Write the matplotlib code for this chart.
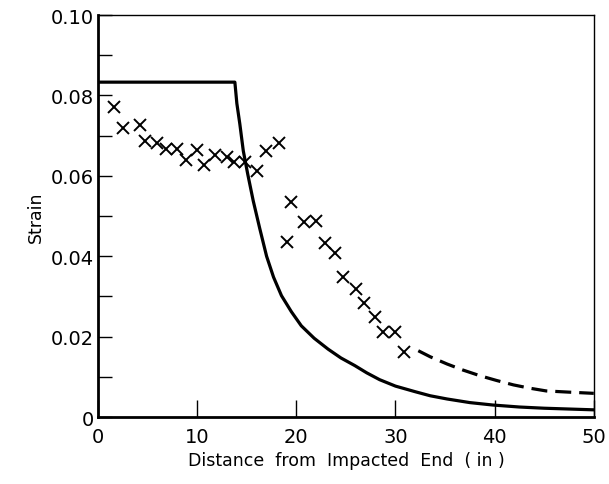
import matplotlib
matplotlib.use("Agg")
import matplotlib.pyplot as plt
from matplotlib.ticker import MultipleLocator

# measured strain (x marks)
meas_x = [1.6, 2.5, 4.2, 4.7, 5.9, 6.9, 8.0, 8.9, 10.0, 10.7, 11.8, 13.0, 13.7,
          14.8, 16.0, 16.9, 18.3, 19.1, 19.5, 20.8, 22.0, 22.9, 23.9, 24.7,
          26.0, 26.8, 27.9, 28.7, 30.0, 30.9]
meas_y = [0.0770, 0.0719, 0.0726, 0.0687, 0.0681, 0.0667, 0.0667, 0.0639, 0.0665,
          0.0627, 0.0652, 0.0646, 0.0635, 0.0634, 0.0613, 0.0661, 0.0681, 0.0435,
          0.0534, 0.0486, 0.0488, 0.0433, 0.0408, 0.0349, 0.0318, 0.0284, 0.0248,
          0.0212, 0.0212, 0.0161]

# predicted curve (solid)
pred_x = [0, 13.8, 14.0, 14.3, 14.65, 15.1, 15.65, 16.3, 17.0, 17.7, 18.5, 19.5,
          20.5, 21.8, 23.2, 24.5, 25.9, 27.1, 28.4, 30.0, 32.0, 33.5, 35.2, 37.5,
          39.8, 42.5, 45.0, 47.5, 50.0]
pred_y = [0.0833, 0.0833, 0.0780, 0.0729, 0.0662, 0.0604, 0.0538, 0.0470, 0.0400,
          0.0348, 0.0302, 0.0262, 0.0227, 0.0196, 0.0169, 0.0147, 0.0128, 0.0110,
          0.0093, 0.0077, 0.0063, 0.0053, 0.0045, 0.0036, 0.0030, 0.0025, 0.0022,
          0.0020, 0.0018]

# extrapolated tail (dashed)
tail_x = [32.3, 33.5, 35.2, 36.8, 38.5, 40.2, 41.9, 43.5, 45.2, 47.5, 50.0]
tail_y = [0.0165, 0.0150, 0.0132, 0.0117, 0.0103, 0.0091, 0.0080, 0.0072, 0.0065,
          0.0062, 0.0059]

fig = plt.figure(figsize=(6.09, 4.85), dpi=100)
ax = fig.add_axes([0.161, 0.138, 0.814, 0.829])

ax.plot(pred_x, pred_y, color='black', lw=2.3, solid_joinstyle='round')
ax.plot(tail_x, tail_y, color='black', lw=2.3, dashes=(5, 2.5))
ax.plot(meas_x, meas_y, ls='none', marker='x', ms=8, mew=1.4, color='black')

ax.set_xlim(0, 50)
ax.set_ylim(0, 0.10)
ax.xaxis.set_major_locator(MultipleLocator(10))
ax.yaxis.set_minor_locator(MultipleLocator(0.01))
ax.set_yticks([0, 0.02, 0.04, 0.06, 0.08, 0.10])
ax.set_yticklabels(['0', '0.02', '0.04', '0.06', '0.08', '0.10'])
ax.tick_params(which='both', direction='in', labelsize=14, width=1)
ax.tick_params(axis='x', which='major', length=12, pad=7)
ax.tick_params(axis='y', which='both', length=10, pad=3)
ax.tick_params(top=False, right=False)

for s in ['left', 'bottom']:
    ax.spines[s].set_linewidth(2)
for s in ['top', 'right']:
    ax.spines[s].set_linewidth(1)

ax.set_xlabel('Distance  from  Impacted  End  ( in )', fontsize=12.5, labelpad=4)
ax.set_ylabel('Strain', fontsize=12.5, labelpad=4)

fig.savefig('out.png', dpi=100)
